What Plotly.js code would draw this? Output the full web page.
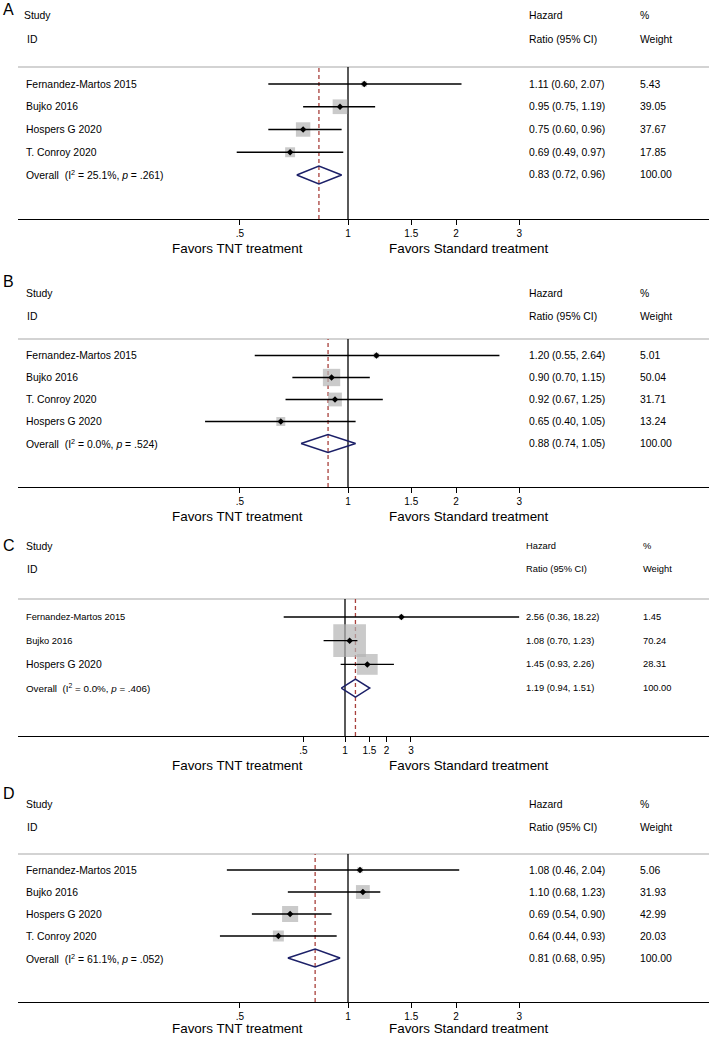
<!DOCTYPE html>
<html><head><meta charset="utf-8">
<script src="https://cdn.plot.ly/plotly-3.0.1.min.js"></script>
<style>html,body{margin:0;padding:0;background:#fff;} #chart{width:709px;height:1037px;}</style>
</head><body><div id="chart"></div>
<script>
// ---------- DATA ----------
const panelLetters = ["A", "B", "C", "D"];

const studiesA = ["Fernandez-Martos 2015", "Bujko 2016", "Hospers G 2020", "T. Conroy 2020"];
const hrA = [1.11, 0.95, 0.75, 0.69];
const loA = [0.60, 0.75, 0.60, 0.49];
const hiA = [2.07, 1.19, 0.96, 0.97];
const weightA = [5.43, 39.05, 37.67, 17.85];

const studiesB = ["Fernandez-Martos 2015", "Bujko 2016", "T. Conroy 2020", "Hospers G 2020"];
const hrB = [1.20, 0.90, 0.92, 0.65];
const loB = [0.55, 0.70, 0.67, 0.40];
const hiB = [2.64, 1.15, 1.25, 1.05];
const weightB = [5.01, 50.04, 31.71, 13.24];

const studiesC = ["Fernandez-Martos 2015", "Bujko 2016", "Hospers G 2020"];
const hrC = [2.56, 1.08, 1.45];
const loC = [0.36, 0.70, 0.93];
const hiC = [18.22, 1.23, 2.26];
const weightC = [1.45, 70.24, 28.31];

const studiesD = ["Fernandez-Martos 2015", "Bujko 2016", "Hospers G 2020", "T. Conroy 2020"];
const hrD = [1.08, 1.10, 0.69, 0.64];
const loD = [0.46, 0.68, 0.54, 0.44];
const hiD = [2.04, 1.23, 0.90, 0.93];
const weightD = [5.06, 31.93, 42.99, 20.03];

const overallHR = [0.83, 0.88, 1.19, 0.81];
const overallLo = [0.72, 0.74, 0.94, 0.68];
const overallHi = [0.96, 1.05, 1.51, 0.95];
const overallI2 = ["25.1%", "0.0%", "0.0%", "61.1%"];
const overallP = [".261", ".524", ".406", ".052"];

const tickVals = [0.5, 1, 1.5, 2, 3];
const tickText = [".5", "1", "1.5", "2", "3"];

// ---------- LAYOUT GEOMETRY ----------
const W = 709, H = 1037;
const FONT = "Liberation Sans, Arial, Helvetica, sans-serif";
const px2x = p => p / W;
const px2y = p => 1 - p / H;

const geo = [
  {sep: 67,  axis: 219,  row1: 84,    sp: 22.75, x1: 348, k: 156, letterY: 10,  studyY: 16,  idY: 39,  hx: 528, wx: 639, fs: 10.4, box: 2.35},
  {sep: 339, axis: 487,  row1: 355.5, sp: 22,    x1: 348, k: 156, letterY: 281, studyY: 293, idY: 316, hx: 528, wx: 639, fs: 10.4, box: 2.45},
  {sep: 599, axis: 736,  row1: 617,   sp: 23.7,  x1: 345, k: 60,  letterY: 545, studyY: 546, idY: 569, hx: 525, wx: 642, fs: 9.3,  box: 3.9},
  {sep: 854, axis: 1002, row1: 870,   sp: 22,    x1: 348, k: 156, letterY: 793, studyY: 804, idY: 827, hx: 528, wx: 639, fs: 10.4, box: 2.45}
];

const panels = [
  {studies: studiesA, hr: hrA, lo: loA, hi: hiA, w: weightA},
  {studies: studiesB, hr: hrB, lo: loB, hi: hiB, w: weightB},
  {studies: studiesC, hr: hrC, lo: loC, hi: hiC, w: weightC},
  {studies: studiesD, hr: hrD, lo: loD, hi: hiD, w: weightD}
];

const fmt = v => v.toFixed(2);

const traces = [];
const layout = {
  width: W, height: H,
  margin: {l: 0, r: 0, t: 0, b: 0},
  paper_bgcolor: "#fff", plot_bgcolor: "rgba(0,0,0,0)",
  showlegend: false, hovermode: false,
  font: {family: FONT, color: "#000"},
  annotations: [], shapes: []
};

function ann(text, x, y, size, opts) {
  layout.annotations.push(Object.assign({
    text: text, xref: "paper", yref: "paper", x: px2x(x), y: px2y(y),
    xanchor: "left", yanchor: "middle", showarrow: false, borderpad: 0,
    font: {family: FONT, size: size, color: "#000"}
  }, opts || {}));
}

panels.forEach((p, i) => {
  const g = geo[i];
  const sfx = i === 0 ? "" : String(i + 1);
  const xa = "x" + sfx, ya = "y" + sfx;
  const n = p.studies.length;
  const rows = p.studies.map((_, j) => j + 1);
  const oRow = n + 1;

  // axes
  const lnL = (18 - g.x1) / g.k, lnR = (W - g.x1) / g.k;
  layout["xaxis" + sfx] = {
    type: "log", domain: [18 / W, 1], anchor: ya,
    range: [lnL / Math.LN10, lnR / Math.LN10],
    tickvals: tickVals, ticktext: tickText,
    ticks: "outside", ticklen: 5, tickwidth: 1, tickcolor: "#000",
    showline: true, linecolor: "#000", linewidth: 1.3,
    showgrid: false, zeroline: false, fixedrange: true,
    tickfont: {family: FONT, size: 10, color: "#000"}
  };
  const yBot = 1 + (g.axis - g.row1) / g.sp;
  const yTop = 1 - (g.row1 - g.sep) / g.sp;
  layout["yaxis" + sfx] = {
    domain: [px2y(g.axis), px2y(g.sep)], anchor: xa,
    range: [yBot, yTop], visible: false, fixedrange: true
  };

  // separator line (light grey)
  layout.shapes.push({type: "line", xref: "paper", yref: "paper",
    x0: 18 / W, x1: 1, y0: px2y(g.sep), y1: px2y(g.sep),
    line: {color: "#c4c4c4", width: 1.6}, layer: "below"});
  // null line at HR = 1
  layout.shapes.push({type: "line", xref: xa, yref: ya + " domain",
    x0: 1, x1: 1, y0: 0, y1: 1, line: {color: "#000", width: 1.3}, layer: "below"});
  // overall estimate dashed line
  layout.shapes.push({type: "line", xref: xa, yref: ya + " domain",
    x0: overallHR[i], x1: overallHR[i], y0: 0, y1: 1,
    line: {color: "#a8403c", width: 1.3, dash: "4px,3px"}, layer: "below"});

  // weight boxes
  traces.push({type: "scatter", mode: "markers", xaxis: xa, yaxis: ya,
    x: p.hr, y: rows,
    marker: {symbol: "square", color: "#b4b4b4", size: p.w.map(v => g.box * Math.sqrt(v)), line: {width: 0}}});
  // CI lines
  const cx = [], cy = [];
  p.lo.forEach((lo, j) => { cx.push(lo, p.hi[j], null); cy.push(rows[j], rows[j], null); });
  traces.push({type: "scatter", mode: "lines", xaxis: xa, yaxis: ya, x: cx, y: cy,
    line: {color: "#000", width: 1.3}});
  // point estimates
  traces.push({type: "scatter", mode: "markers", xaxis: xa, yaxis: ya, x: p.hr, y: rows,
    marker: {symbol: "diamond", size: 5, color: "#000"}});
  // overall diamond
  const h = 9 / g.sp;
  traces.push({type: "scatter", mode: "lines", xaxis: xa, yaxis: ya,
    x: [overallLo[i], overallHR[i], overallHi[i], overallHR[i], overallLo[i]],
    y: [oRow, oRow - h, oRow, oRow + h, oRow],
    line: {color: "#1c2068", width: 1.5}});

  // texts
  ann(panelLetters[i], 2, g.letterY, 16);
  ann("Study", i === 0 ? 23 : 25, g.studyY, 10.4);
  ann("ID", 26, g.idY, 10.4);
  ann("Hazard", g.hx, g.studyY, g.fs);
  ann("Ratio (95% CI)", g.hx, g.idY, g.fs);
  ann("%", g.wx, g.studyY, g.fs);
  ann("Weight", g.wx, g.idY, g.fs);
  const rowPx = r => g.row1 + (r - 1) * g.sp;
  p.studies.forEach((s, j) => {
    const fsz = (i === 2 && s.indexOf("Hospers") === 0) ? 10.4 : g.fs;
    ann(s, 25, rowPx(rows[j]), fsz);
    ann(fmt(p.hr[j]) + " (" + fmt(p.lo[j]) + ", " + fmt(p.hi[j]) + ")", g.hx, rowPx(rows[j]), g.fs);
    ann(fmt(p.w[j]), g.wx, rowPx(rows[j]), g.fs);
  });
  ann("Overall\u00a0\u00a0(I<sup>2</sup> = " + overallI2[i] + ", <i>p</i> = " + overallP[i] + ")", 25, rowPx(oRow), i === 2 ? 9.8 : g.fs);
  ann(fmt(overallHR[i]) + " (" + fmt(overallLo[i]) + ", " + fmt(overallHi[i]) + ")", g.hx, rowPx(oRow), g.fs);
  ann("100.00", g.wx, rowPx(oRow), g.fs);
  const fy = Math.min(g.axis + 29.5, H - 8.5);
  ann("Favors TNT treatment", 237.5, fy, 13.4, {xanchor: "center"});
  ann("Favors Standard treatment", 469, fy, 13.4, {xanchor: "center"});
});

Plotly.newPlot("chart", traces, layout, {displayModeBar: false, staticPlot: true});
</script>
</body></html>
